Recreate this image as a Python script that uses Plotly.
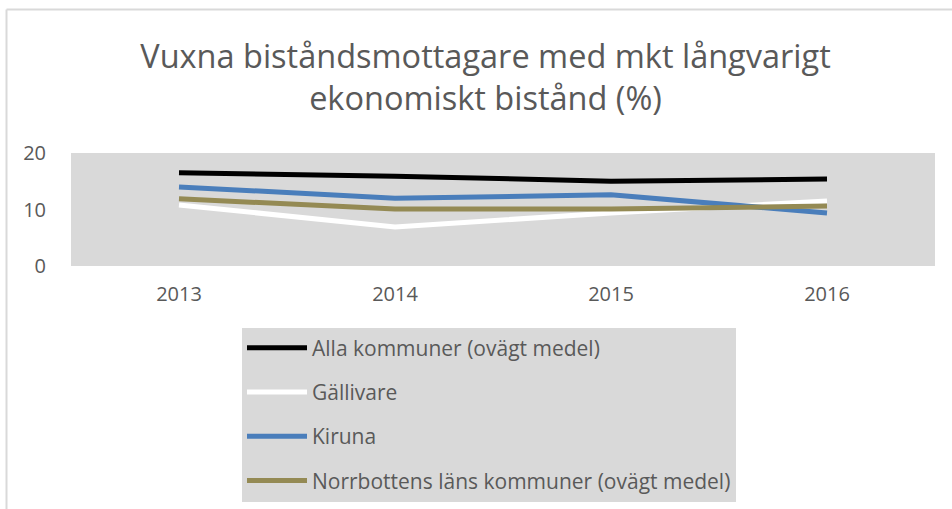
import plotly.graph_objects as go

years = ["2013", "2014", "2015", "2016"]
alla = [16.5, 15.9, 15.0, 15.4]
gallivare = [10.8, 6.9, 9.4, 11.5]
kiruna = [14.0, 12.0, 12.6, 9.4]
norrbotten = [11.9, 10.1, 10.1, 10.6]

series = [
    ("Alla kommuner (ovägt medel)", alla, "#000000"),
    ("Gällivare", gallivare, "#ffffff"),
    ("Kiruna", kiruna, "#4a7ebb"),
    ("Norrbottens läns kommuner (ovägt medel)", norrbotten, "#948a54"),
]

FONT = "Open Sans"
TXT = "#595959"

fig = go.Figure()
for i, (name, vals, col) in enumerate(series):
    fig.add_trace(go.Scatter(x=years, y=vals, name=name, mode="lines",
                             line=dict(color=col, width=5),
                             legendgroup=f"g{i}"))

L, R, T, B = 71, 935, 153, 266
W, H = 952, 509

def px(p):
    return (p - L) / (R - L)

def py(p):
    return (B - p) / (B - T)

fig.update_layout(
    width=W, height=H,
    margin=dict(l=L, r=W - R, t=T, b=H - B, autoexpand=False),
    paper_bgcolor="white",
    plot_bgcolor="#d9d9d9",
    showlegend=True,
    title=dict(text="Vuxna biståndsmottagare med mkt långvarigt<br>ekonomiskt bistånd (%)",
               x=0.51, xanchor="center", y=1 - 68 / H, yanchor="middle",
               font=dict(family=FONT, size=32.5, color=TXT)),
    font=dict(family=FONT, size=20, color=TXT),
    xaxis=dict(type="category", range=[-0.5, 3.5], showgrid=False, zeroline=False,
               showline=False, ticks="", tickfont=dict(size=20, color=TXT), ticklabelstandoff=14,
               automargin=False),
    yaxis=dict(range=[0, 20], tickvals=[0, 10, 20], showgrid=False, zeroline=False,
               showline=False, ticks="", tickfont=dict(size=20, color=TXT), ticklabelstandoff=24,
               automargin=False),
    legend=dict(x=px(242), y=py(327.5), xanchor="left", yanchor="top",
                bgcolor="#d9d9d9", orientation="v", traceorder="grouped",
                tracegroupgap=14, itemwidth=60,
                font=dict(family=FONT, size=21, color=TXT)),
    shapes=[
        dict(type="line", xref="paper", yref="paper", x0=px(6.5), x1=px(952), y0=py(9.5), y1=py(9.5),
             line=dict(color="#d9d9d9", width=2)),
        dict(type="line", xref="paper", yref="paper", x0=px(6.5), x1=px(6.5), y0=py(9.5), y1=py(509),
             line=dict(color="#d9d9d9", width=2)),
    ],
)

fig.write_html("out.html", config={"displayModeBar": False},
               post_script="document.body.style.margin='0';document.body.style.overflow='hidden';")
